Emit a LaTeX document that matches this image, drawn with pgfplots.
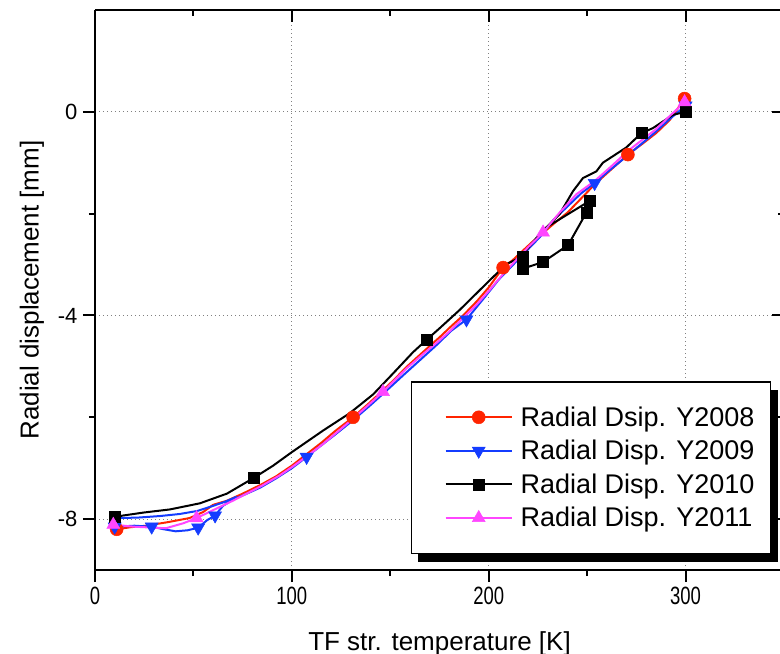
\documentclass[border=0pt]{standalone}
\usepackage{pgfplots}
\pgfplotsset{compat=1.18}
\usepackage{fontspec}
\setmainfont{Liberation Sans}
\newfontfamily\narrowfont[FakeStretch=0.74]{Liberation Sans}
\definecolor{cred}{RGB}{255,36,0}
\definecolor{cblue}{RGB}{20,60,255}
\definecolor{cmag}{RGB}{255,70,255}
\begin{document}
\begin{tikzpicture}
\pgfplotsset{
  common/.style={
    width=689bp, height=560bp, scale only axis,
    xmin=0, xmax=350, ymin=-9, ymax=2,
    xtick={0,100,200,300}, minor xtick={50,150,250},
    ytick={-8,-4,0}, minor ytick={-6,-2},
    axis line style={line width=2bp},
    major tick length=12bp, minor tick length=6bp,
    every tick/.style={black, line width=2bp},
    /pgf/number format/assume math mode=true,
  }
}
\begin{axis}[common, name=ax,
    axis x line*=bottom, axis y line*=left,
    tick align=outside,
    grid=major,
    major grid style={gray, line width=1bp, dash pattern=on 1bp off 3bp},
    ticklabel style={font=\fontsize{22bp}{24bp}\selectfont},
    xticklabel style={font=\fontsize{25bp}{27bp}\narrowfont, yshift=-2bp},
    yticklabel style={xshift=-2bp},
    xlabel={TF str. temperature [K]},
    ylabel={Radial displacement [mm]},
    label style={font=\fontsize{26bp}{30bp}\selectfont},
    xlabel style={at={(axis description cs:0.5,-0.1429)}, anchor=base},
    ylabel style={at={(axis description cs:-0.0914,0.5)}, anchor=center},
    legend style={at={(axis description cs:0.4586,0.3375)}, anchor=north west,
      draw=black, line width=1.5bp, fill=white,
      font=\fontsize{27bp}{30bp}\selectfont,
      inner xsep=16bp, inner ysep=25bp, row sep=12.5bp, column sep=8bp,
      nodes={inner sep=0pt}},
    legend cell align=left,
    legend image code/.code={
      \path (-17bp,0bp);
      \draw[mark=none] (0bp,0bp) -- (66bp,0bp);
      \draw[mark indices={1}] plot coordinates {(33bp,0bp)};
    },
]
% legend shadow
\fill[black] (axis description cs:0.4688,0.3214) rectangle (axis description cs:0.9913,0.0143);
% Y2008
\addplot[cred, line width=2bp, mark=*, mark size=6.5bp, mark options={solid, line width=0.5bp},
  mark indices={1,16,27,37,41}] coordinates {
(11,-8.20) (18,-8.16) (26,-8.13) (37,-8.06) (48,-7.98) (55,-7.86) (60,-7.72) (67,-7.64)
(75,-7.50) (84,-7.33) (92,-7.16) (100,-6.95) (107,-6.74) (115,-6.50) (122,-6.27)
(131.1,-6.00) (139,-5.73) (146,-5.48) (152,-5.26) (158,-5.02) (166,-4.74) (175,-4.43)
(181,-4.21) (187,-4.00) (194,-3.72) (200,-3.45) (207.3,-3.06) (212,-2.92) (217,-2.74)
(222,-2.56) (227,-2.40) (233,-2.20) (240,-1.98) (247,-1.70) (254,-1.42) (262,-1.14)
(270.7,-0.84) (278,-0.63) (285,-0.42) (292,-0.16) (299.5,0.26)
};
\addlegendentry{Radial Dsip. Y2008}
% Y2009
\addplot[cblue, line width=2bp, mark=triangle*, mark size=7.5bp, mark options={solid, rotate=180, line width=0.5bp},
  mark indices={1,7,16,26,33,35,39,41}] coordinates {
(300,0.12) (292,-0.14) (284,-0.42) (276,-0.68) (268,-0.94) (261,-1.16) (253.8,-1.40)
(247,-1.60) (240,-1.86) (233,-2.12) (226,-2.46) (219,-2.74) (212,-3.02) (205,-3.30)
(198,-3.64) (188.7,-4.08) (181,-4.30) (173,-4.60) (165,-4.88) (157,-5.16) (148,-5.48)
(140,-5.76) (131,-6.06) (122,-6.34) (114,-6.58) (107.5,-6.78) (100,-7.00) (92,-7.20)
(84,-7.38) (76,-7.52) (70,-7.62) (65,-7.74) (61,-7.93) (57,-8.02) (52.4,-8.17)
(47,-8.22) (41,-8.24) (35,-8.20) (28.8,-8.15) (20,-8.13) (10,-8.15) (12,-7.98)
(22,-7.97) (33,-7.94) (43,-7.90) (52,-7.84) (60,-7.74) (66,-7.66) (72,-7.56)
};
\addlegendentry{Radial Disp. Y2009}
% Y2010
\addplot[black, line width=2bp, mark=square*, mark size=5.5bp, mark options={solid, line width=0.5bp},
  mark indices={1,7,15,20,21,22,23,24,25,35,38}] coordinates {
(10.2,-7.96) (14.2,-7.93) (25,-7.87) (38.1,-7.81) (53.3,-7.69) (67,-7.50) (80.7,-7.19)
(90.5,-6.95) (99.8,-6.69) (115.9,-6.26) (129.4,-5.92) (141.3,-5.55) (151.4,-5.14)
(161.6,-4.72) (168.7,-4.47) (175.1,-4.25) (185.3,-3.89) (200.5,-3.31) (209,-2.99)
(217.4,-2.84) (217.4,-3.08) (227.6,-2.95) (240.3,-2.62) (249.6,-1.98) (251.3,-1.75)
(228,-2.30) (217.4,-2.80) (225.9,-2.40) (236,-2.01) (242.8,-1.56) (247.9,-1.30)
(254.7,-1.17) (258,-1.00) (269.9,-0.70) (277.5,-0.42) (283.4,-0.32) (293.6,-0.06) (300,0.00)
};
\addlegendentry{Radial Disp. Y2010}
% Y2011
\addplot[cmag, line width=2bp, mark=triangle*, mark size=7.5bp, mark options={solid, line width=0.5bp},
  mark indices={1,5,18,30,39}] coordinates {
(9.3,-8.11) (20,-8.15) (36,-8.18) (45,-8.08) (51.6,-7.98) (57,-7.88) (63.5,-7.76) (70,-7.64)
(77,-7.50) (85,-7.34) (93.9,-7.14) (100,-6.98) (107.5,-6.77) (116,-6.52) (124,-6.26)
(131,-6.03) (138,-5.79) (146.3,-5.50) (152,-5.28) (158,-5.05) (166,-4.78) (175,-4.49)
(181,-4.28) (187,-4.05) (194,-3.78) (200,-3.52) (207,-3.20) (213,-2.95) (220,-2.66)
(227.6,-2.37) (236,-1.98) (244.5,-1.62) (253.8,-1.36) (262,-1.08) (271,-0.76) (278,-0.55)
(285,-0.34) (292,-0.08) (299.5,0.19)
};
\addlegendentry{Radial Disp. Y2011}
\end{axis}
\begin{axis}[common,
    axis x line*=top, axis y line*=right,
    tick align=inside,
    xticklabels={}, yticklabels={},
]
\end{axis}
\pgfresetboundingbox
\path ([xshift=-95bp,yshift=-84bp]ax.south west) rectangle ([xshift=-4bp,yshift=10bp]ax.north east);
\end{tikzpicture}
\end{document}
